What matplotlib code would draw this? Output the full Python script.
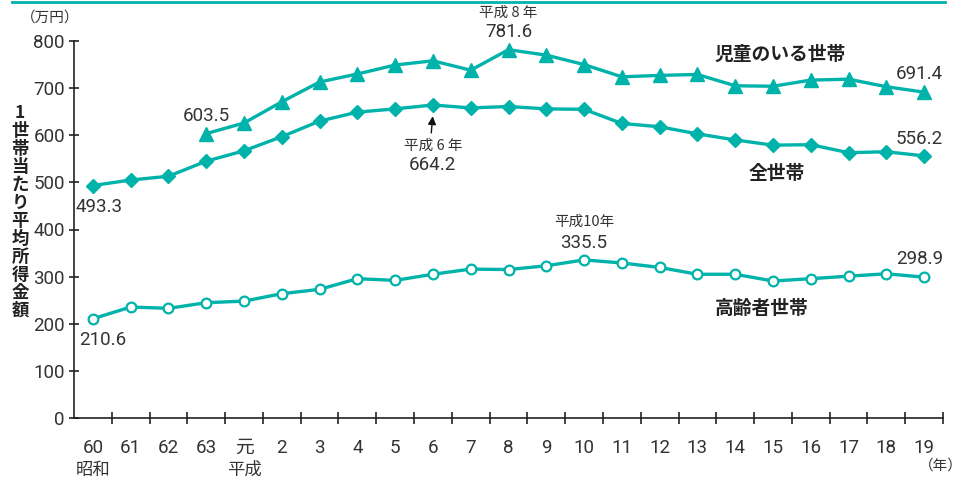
import matplotlib
matplotlib.use("Agg")
import matplotlib.pyplot as plt
from matplotlib.lines import Line2D
from matplotlib.ticker import FixedLocator
from matplotlib import font_manager
import numpy as np

plt.rcParams['font.family'] = ['Noto Sans CJK JP', 'DejaVu Sans']

# 昭和60年〜平成19年
years = ['60', '61', '62', '63', '元'] + [str(y) for y in range(2, 20)]
all_households = [493.3, 505, 513, 545, 567, 597, 630, 649, 656, 664.2, 658, 661,
                  656, 655, 625, 618, 603, 590, 579, 580, 563, 565, 556.2]
child_households = [np.nan, np.nan, np.nan, 603.5, 626, 671, 713, 730, 749, 758, 738,
                    781.6, 770, 750, 724, 727, 729, 705, 704, 717, 719, 703, 691.4]
elderly_households = [210.6, 235.5, 232.7, 244.7, 248, 263.8, 273, 295.6, 292, 305, 316,
                      315, 323, 335.5, 329, 319.5, 305, 305, 290.7, 295.6, 301, 306, 298.9]

teal = '#00b3aa'
ink = '#333333'

# 数字用の細めの書体(無ければ通常の書体)
installed = {f.name for f in font_manager.fontManager.ttflist}
num_family = ['Liberation Sans Narrow'] if 'Liberation Sans Narrow' in installed else ['Roboto']
num_family = num_family + ['Noto Sans CJK JP']

fig = plt.figure(figsize=(9.64, 4.8), dpi=100)
ax = fig.add_axes([74 / 964, 62 / 480, 869 / 964, 377 / 480])
x = np.arange(len(years))

ax.plot(x, child_households, color=teal, lw=2.4, marker='^', ms=10,
        mfc=teal, mec=teal, zorder=3)
ax.plot(x, all_households, color=teal, lw=2.4, marker='D', ms=6.8,
        mfc=teal, mec=teal, zorder=3)
ax.plot(x, elderly_households, color=teal, lw=2.4, marker='o', ms=7,
        mfc='white', mec=teal, mew=1.6, zorder=3)

ax.set_xlim(-0.5, len(years) - 0.5)
ax.set_ylim(0, 800)
ax.spines['top'].set_visible(False)
ax.spines['right'].set_visible(False)
for s in ('left', 'bottom'):
    ax.spines[s].set_color('#222222')
    ax.spines[s].set_linewidth(1.2)

ax.set_xticks(x)
ax.set_xticklabels(years)
ax.xaxis.set_minor_locator(FixedLocator(np.arange(0.5, len(years), 1.0)))
ax.tick_params(axis='x', which='major', length=0, pad=15, labelsize=13.5, labelcolor=ink)
ax.tick_params(axis='x', which='minor', direction='inout', length=8, width=1.2, color='#222222')
ax.set_yticks(np.arange(0, 801, 100))
ax.tick_params(axis='y', direction='inout', length=7, width=1.2, color='#222222',
               pad=3, labelsize=13.5, labelcolor=ink)
for lab in ax.get_xticklabels() + ax.get_yticklabels():
    lab.set_family(num_family)

# 元号
ax.text(0, -0.138, '昭和', transform=ax.get_xaxis_transform(), ha='center', va='center',
        fontsize=12.5, color=ink)
ax.text(4, -0.138, '平成', transform=ax.get_xaxis_transform(), ha='center', va='center',
        fontsize=12.5, color=ink)
fig.text(963 / 964, 1 - 466 / 480, '（年）', ha='right', va='center', fontsize=10.5, color=ink)
fig.text(50 / 964, 1 - 18 / 480, '（万円）', ha='center', va='center', fontsize=10.5, color=ink)

# 縦書きの軸ラベル
ylabel = '1世帯当たり平均所得金額'
fig.text(20 / 964, 1 - 212 / 480, '\n'.join(ylabel), ha='center', va='center',
         fontsize=12.5, fontweight='bold', color='#222222', linespacing=1.0)

# 系列名
ax.text(18.2, 772, '児童のいる世帯', ha='center', va='center', fontsize=13.5,
        fontweight='bold', color='#222222')
ax.text(18.1, 518, '全世帯', ha='center', va='center', fontsize=13.5,
        fontweight='bold', color='#222222')
ax.text(17.7, 233, '高齢者世帯', ha='center', va='center', fontsize=13.5,
        fontweight='bold', color='#222222')

# 数値ラベル
num_kw = dict(fontsize=13.5, color=ink, va='center', family=num_family)
ax.text(-0.47, all_households[0] - 45, f'{all_households[0]:.1f}', ha='left', **num_kw)
ax.text(-0.37, elderly_households[0] - 46, f'{elderly_households[0]:.1f}', ha='left', **num_kw)
ax.text(3, child_households[3] + 37, f'{child_households[3]:.1f}', ha='center', **num_kw)
ax.text(22.5, child_households[-1] + 38, f'{child_households[-1]:.1f}', ha='right', **num_kw)
ax.text(22.5, all_households[-1] + 35, f'{all_households[-1]:.1f}', ha='right', **num_kw)
ax.text(22.5, elderly_households[-1] + 38, f'{elderly_households[-1]:.1f}', ha='right', **num_kw)

ax.text(11, child_households[11] + 38, f'{child_households[11]:.1f}', ha='center', **num_kw)
ax.text(11, child_households[11] + 78, '平成 8 年', ha='center', va='center',
        fontsize=10.5, color=ink, clip_on=False)

ax.text(13, elderly_households[13] + 35, f'{elderly_households[13]:.1f}', ha='center', **num_kw)
ax.text(13, elderly_households[13] + 80, '平成10年', ha='center', va='center',
        fontsize=10.5, color=ink)

ax.annotate('', xy=(9, all_households[9] - 18), xytext=(8.95, all_households[9] - 65),
            arrowprops=dict(arrowstyle='-|>', color='#111111', lw=1.0, mutation_scale=12))
ax.text(9, all_households[9] - 86, '平成 6 年', ha='center', va='center',
        fontsize=10.5, color=ink)
ax.text(9, all_households[9] - 127, f'{all_households[9]:.1f}', ha='center', **num_kw)

# 上端の罫線
fig.add_artist(Line2D([12 / 964, 945 / 964], [1 - 1.5 / 480, 1 - 1.5 / 480],
                      color=teal, lw=2))

fig.savefig('out.png', dpi=100)
